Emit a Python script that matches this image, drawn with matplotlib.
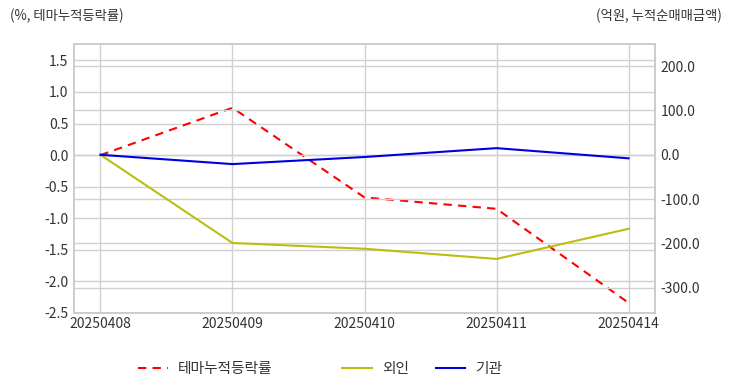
import matplotlib
matplotlib.use("Agg")
import matplotlib.pyplot as plt
from matplotlib.lines import Line2D

plt.rcParams['font.family'] = ['Noto Sans CJK KR', 'DejaVu Sans']

dates = ["20250408", "20250409", "20250410", "20250411", "20250414"]
theme_cum = [0.0, 0.75, -0.67, -0.85, -2.34]      # left axis (%)
foreign = [0.0, -199.0, -212.0, -235.0, -167.0]    # right axis (억원)
institution = [0.0, -21.0, -5.0, 15.0, -8.0]       # right axis (억원)

txt = '#333333'
gridc = '#d0d0d0'

fig = plt.figure(figsize=(7.32, 3.92), dpi=100)
ax = fig.add_axes([74/732, 1-313/392, (655-74)/732, (313-44)/392])
ax2 = ax.twinx()

x = list(range(len(dates)))
ax.plot(x, theme_cum, color='#ff0000', lw=1.5, ls=(0, (4, 3)), label='테마누적등락률', zorder=3)
ax2.plot(x, foreign, color='#bdbd10', lw=1.5, label='외인')
ax2.plot(x, institution, color='#0000dd', lw=1.5, label='기관')

ax.set_xlim(-0.2, 4.2)
ax.set_ylim(-2.5, 1.76)
ax2.set_ylim(-357, 250)
ax.set_xticks(x)
ax.set_xticklabels(dates)
lt = [1.5, 1.0, 0.5, 0.0, -0.5, -1.0, -1.5, -2.0, -2.5]
ax.set_yticks(lt)
ax.set_yticklabels([f"{v:.1f}" for v in lt])
rt = [200, 100, 0, -100, -200, -300]
ax2.set_yticks(rt)
ax2.set_yticklabels([f"{v:.1f}" for v in rt])

for a in (ax, ax2):
    a.grid(True, color=gridc, lw=1.0)
    a.tick_params(length=0, labelsize=10, labelcolor=txt, pad=4)
    for s in a.spines.values():
        s.set_color('#cccccc')
        s.set_linewidth(1.2)
ax2.grid(axis='x', visible=False)
ax.tick_params(axis='x', pad=3)
ax.set_axisbelow(True)

fig.text(10/732, 1-16/392, "(%, 테마누적등락률)", ha='left', va='center', fontsize=9.6, color=txt)
fig.text(722/732, 1-16/392, "(억원, 누적순매매금액)", ha='right', va='center', fontsize=9.6, color=txt)

h1 = [Line2D([], [], color='#ff0000', lw=1.5, ls=(0, (4, 3)))]
h2 = [Line2D([], [], color='#bdbd10', lw=1.5), Line2D([], [], color='#0000dd', lw=1.5)]
fig.legend(h1, ['테마누적등락률'], loc='center left', bbox_to_anchor=(125/732, 1-369/392),
           frameon=False, fontsize=10.6, handlelength=2.0, handletextpad=0.7, labelcolor=txt)
fig.legend(h2, ['외인', '기관'], loc='center left', bbox_to_anchor=(329/732, 1-369/392), ncol=2,
           frameon=False, fontsize=10.6, handlelength=2.0, handletextpad=0.7, columnspacing=1.8, labelcolor=txt)

fig.savefig("out.png", dpi=100)
